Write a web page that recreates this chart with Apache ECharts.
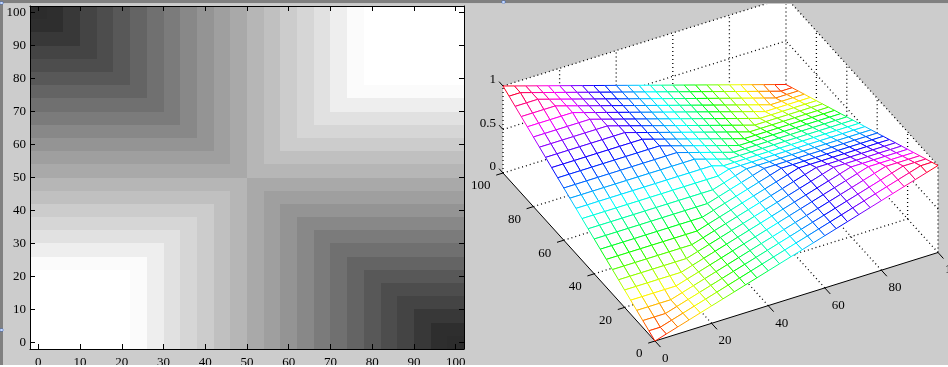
<!DOCTYPE html>
<html>
<head>
<meta charset="utf-8">
<style>
  html, body { margin: 0; padding: 0; background: #ffffff; }
  #chartdiv { width: 948px; height: 367px; }
</style>
<script src="https://cdn.jsdelivr.net/npm/echarts@6/dist/echarts.min.js"></script>
</head>
<body>
<div id="chartdiv"></div>
<script>
// grid positions of the image cells and mesh nodes
const gridX = [0, 4, 8, 12, 16, 20, 24, 28, 32, 36, 40, 44, 48, 52, 56, 60, 64, 68, 72, 76, 80, 84, 88, 92, 96, 100];
const gridY = [100, 96, 92, 88, 84, 80, 76, 72, 68, 64, 60, 56, 52, 48, 44, 40, 36, 32, 28, 24, 20, 16, 12, 8, 4, 0];

// grey levels, by ring counted from each corner
const darkRingGrey = [0x2c, 0x2e, 0x38, 0x44, 0x4d, 0x58, 0x64, 0x70, 0x7b, 0x88, 0x94, 0x9f, 0xa9];
const lightRingGrey = [0xff, 0xff, 0xff, 0xff, 0xff, 0xff, 0xfb, 0xee, 0xe1, 0xd6, 0xcc, 0xc0, 0xb6];

// mesh height, by ring counted from each corner
const highRingZ = [1.00, 0.96, 0.92, 0.88, 0.84, 0.80, 0.76, 0.72, 0.68, 0.64, 0.60, 0.56, 0.52];
const lowRingZ = [0.00, 0.04, 0.08, 0.12, 0.16, 0.20, 0.24, 0.28, 0.32, 0.36, 0.40, 0.44, 0.48];

const imageTicks = [0, 10, 20, 30, 40, 50, 60, 70, 80, 90, 100];
const meshTicksX = [0, 20, 40, 60, 80, 100];
const meshTicksY = [0, 20, 40, 60, 80, 100];
const meshTicksZ = [0, 0.5, 1];

const LABEL_FONT = '13px "Liberation Serif"';

// the four quadrants share the rings: dark at top left / bottom right
function ringValue(col, row, highRing, lowRing) {
  const last = gridX.length - 1;
  const half = gridX.length / 2;
  const colLeft = col < half;
  const rowTop = row < half;
  const a = colLeft ? col : last - col;
  const b = rowTop ? row : last - row;
  const ring = Math.max(a, b);
  return colLeft === rowTop ? highRing[ring] : lowRing[ring];
}

const imageData = [];
gridY.forEach((y, row) => {
  gridX.forEach((x, col) => {
    imageData.push([x, y, ringValue(col, row, darkRingGrey, lightRingGrey)]);
  });
});

// orthographic view of the 3D box: screen position of the origin and per-unit axis steps
const ORIGIN = [655, 341];
const STEP_X = [2.83, -0.885];
const STEP_Y = [-1.52, -1.68];
const STEP_Z = [0, -87];

function project(x, y, z) {
  return [
    ORIGIN[0] + x * STEP_X[0] + y * STEP_Y[0] + z * STEP_Z[0],
    ORIGIN[1] + x * STEP_X[1] + y * STEP_Y[1] + z * STEP_Z[1]
  ];
}

function hsvColor(z) {
  const h = Math.min(Math.max(z, 0), 1) * 6;
  const i = Math.floor(h) % 6;
  const f = h - Math.floor(h);
  const rgb = [[1, f, 0], [1 - f, 1, 0], [0, 1, f], [0, 1 - f, 1], [f, 0, 1], [1, 0, 1 - f]][i];
  return `rgb(${rgb.map(v => Math.round(v * 255)).join(",")})`;
}

// mesh cells, back to front so nearer cells cover what is behind them
const meshCells = [];
for (let col = gridX.length - 2; col >= 0; col--) {
  for (let row = 0; row < gridY.length - 1; row++) {
    const z = (c, r) => ringValue(c, r, highRingZ, lowRingZ);
    meshCells.push([
      gridX[col], gridY[row], z(col, row),
      gridX[col + 1], gridY[row], z(col + 1, row),
      gridX[col + 1], gridY[row + 1], z(col + 1, row + 1),
      gridX[col], gridY[row + 1], z(col, row + 1)
    ]);
  }
}

// dotted lines of the box
const wallLines = [];
[20, 40, 60, 80].forEach(v => {
  wallLines.push([v, 0, 0, v, 100, 0], [0, v, 0, 100, v, 0]);
  wallLines.push([v, 100, 0, v, 100, 1], [100, v, 0, 100, v, 1]);
});
[0, 0.5, 1].forEach(v => {
  wallLines.push([0, 100, v, 100, 100, v], [100, 0, v, 100, 100, v]);
});
[[0, 100], [100, 0], [100, 100]].forEach(p => {
  wallLines.push([p[0], p[1], 0, p[0], p[1], 1]);
});

// solid front edges and outward ticks, as [x1,y1,z1,x2,y2,z2]
const axisLines = [[0, 0, 0, 100, 0, 0], [0, 0, 0, 0, 100, 0]];
meshTicksX.forEach(v => axisLines.push([v, 0, 0, v, -3.6, 0]));
meshTicksY.forEach(v => axisLines.push([0, v, 0, -2.4, v, 0]));
meshTicksZ.forEach(v => axisLines.push([0, 100, v, 0, 102.6, v]));

const wallOutline = [[0, 0, 0], [100, 0, 0], [100, 0, 1], [100, 100, 1], [0, 100, 1], [0, 100, 0]];

const myChart = echarts.init(document.getElementById("chartdiv"), null, { renderer: "canvas" });

function toPixel(api, p) {
  return api.coord(project(p[0], p[1], p[2]));
}

function segmentShape(api, p, q) {
  const a = toPixel(api, p);
  const b = toPixel(api, q);
  return { x1: a[0], y1: a[1], x2: b[0], y2: b[1] };
}

function renderImageCell(params, api) {
  const topLeft = api.coord([api.value(0) - 2, api.value(1) + 2]);
  const bottomRight = api.coord([api.value(0) + 2, api.value(1) - 2]);
  const x = Math.round(topLeft[0]);
  const y = Math.round(topLeft[1]);
  const g = api.value(2);
  return {
    type: "rect",
    shape: { x, y, width: Math.round(bottomRight[0]) - x, height: Math.round(bottomRight[1]) - y },
    style: { fill: `rgb(${g},${g},${g})` }
  };
}

function renderMeshCell(params, api) {
  const v = [0, 1, 2, 3].map(k => [api.value(k * 3), api.value(k * 3 + 1), api.value(k * 3 + 2)]);
  const children = [{
    type: "polygon",
    shape: { points: v.map(p => toPixel(api, p)) },
    style: { fill: "#ffffff", stroke: null }
  }];
  for (let k = 0; k < 4; k++) {
    const p = v[k];
    const q = v[(k + 1) % 4];
    children.push({
      type: "line",
      shape: segmentShape(api, p, q),
      style: { stroke: hsvColor((p[2] + q[2]) / 2), lineWidth: 1, fill: null }
    });
  }
  return { type: "group", children };
}

function renderSegment(stroke, lineWidth, lineDash) {
  return (params, api) => ({
    type: "line",
    shape: segmentShape(api, [api.value(0), api.value(1), api.value(2)], [api.value(3), api.value(4), api.value(5)]),
    style: { stroke, lineWidth, lineDash, fill: null }
  });
}

function renderLabel(worldOf, dx, dy, align) {
  return (params, api) => {
    const v = api.value(0);
    const p = toPixel(api, worldOf(v));
    return {
      type: "text",
      style: { x: p[0] + dx, y: p[1] + dy, text: String(v), fill: "#000000", font: LABEL_FONT, align, verticalAlign: "middle" }
    };
  };
}

const imageAxisLabel = { customValues: imageTicks, color: "#000000", fontFamily: "Liberation Serif", fontSize: 13 };
const imageAxisTick = { customValues: imageTicks, inside: true, length: 5, lineStyle: { color: "#000000", width: 1 } };
const imageAxisLine = { show: true, onZero: false, lineStyle: { color: "#000000", width: 1 } };

function imageAxis(position, labelled, margin) {
  return {
    type: "value",
    gridIndex: 0,
    position,
    min: -2,
    max: 102,
    z: 6,
    axisLine: imageAxisLine,
    axisTick: imageAxisTick,
    axisLabel: labelled ? Object.assign({}, imageAxisLabel, { margin }) : { show: false },
    splitLine: { show: false }
  };
}

const hiddenAxis = max => ({
  type: "value",
  gridIndex: 1,
  show: false,
  min: 0,
  max,
  splitLine: { show: false }
});

const stripStyle = "#808080";

const option = {
  animation: false,
  backgroundColor: "#cccccc",
  grid: [
    { left: 30, top: 6, width: 434, height: 343, outerBoundsMode: "none" },
    { left: 0, top: 0, width: 948, height: 367, outerBoundsMode: "none" }
  ],
  xAxis: [imageAxis("bottom", true, 7), imageAxis("top", false), hiddenAxis(948)],
  yAxis: [imageAxis("left", true, 4), imageAxis("right", false), Object.assign(hiddenAxis(367), { inverse: true })],
  series: [
    {
      type: "custom",
      xAxisIndex: 0,
      yAxisIndex: 0,
      z: 2,
      silent: true,
      data: imageData,
      renderItem: renderImageCell
    },
    {
      type: "custom",
      xAxisIndex: 2,
      yAxisIndex: 2,
      z: 3,
      silent: true,
      data: [wallOutline.flat()],
      renderItem: (params, api) => {
        const points = wallOutline.map((p, k) => toPixel(api, [api.value(k * 3), api.value(k * 3 + 1), api.value(k * 3 + 2)]));
        return { type: "polygon", shape: { points }, style: { fill: "#ffffff" } };
      }
    },
    {
      type: "custom",
      xAxisIndex: 2,
      yAxisIndex: 2,
      z: 4,
      silent: true,
      data: wallLines,
      renderItem: renderSegment("#000000", 1.3, [1, 3])
    },
    {
      type: "custom",
      xAxisIndex: 2,
      yAxisIndex: 2,
      z: 5,
      silent: true,
      data: axisLines,
      renderItem: renderSegment("#000000", 1)
    },
    {
      type: "custom",
      xAxisIndex: 2,
      yAxisIndex: 2,
      z: 7,
      silent: true,
      data: meshCells,
      renderItem: renderMeshCell
    },
    {
      type: "custom",
      xAxisIndex: 2,
      yAxisIndex: 2,
      z: 8,
      silent: true,
      data: meshTicksX.map(v => [v]),
      renderItem: renderLabel(v => [v, 0, 0], 7, 17.5, "left")
    },
    {
      type: "custom",
      xAxisIndex: 2,
      yAxisIndex: 2,
      z: 8,
      silent: true,
      data: meshTicksY.map(v => [v]),
      renderItem: renderLabel(v => [0, v, 0], -12.5, 13, "right")
    },
    {
      type: "custom",
      xAxisIndex: 2,
      yAxisIndex: 2,
      z: 8,
      silent: true,
      data: meshTicksZ.map(v => [v]),
      renderItem: renderLabel(v => [0, 100, v], -7, -6, "right")
    }
  ],
  graphic: [
    { type: "rect", z: 100, shape: { x: 0, y: 0, width: 948, height: 3 }, style: { fill: stripStyle } },
    { type: "rect", z: 100, shape: { x: 0, y: 3, width: 948, height: 1 }, style: { fill: "#c8c8c8" } },
    { type: "rect", z: 100, shape: { x: 0, y: 3, width: 3, height: 362 }, style: { fill: stripStyle } },
    { type: "rect", z: 100, shape: { x: 0, y: 365, width: 948, height: 2 }, style: { fill: "#ffffff" } },
    { type: "rect", z: 101, shape: { x: 0, y: 2, width: 3, height: 2 }, style: { fill: "#ffffff", stroke: "#2060e0", lineWidth: 0.5 } },
    { type: "rect", z: 101, shape: { x: 0, y: 329, width: 3, height: 2 }, style: { fill: "#ffffff", stroke: "#2060e0", lineWidth: 0.5 } },
    { type: "rect", z: 101, shape: { x: 502, y: 1, width: 3, height: 2 }, style: { fill: "#ffffff", stroke: "#2060e0", lineWidth: 0.5 } }
  ]
};

myChart.setOption(option);
</script>
</body>
</html>
